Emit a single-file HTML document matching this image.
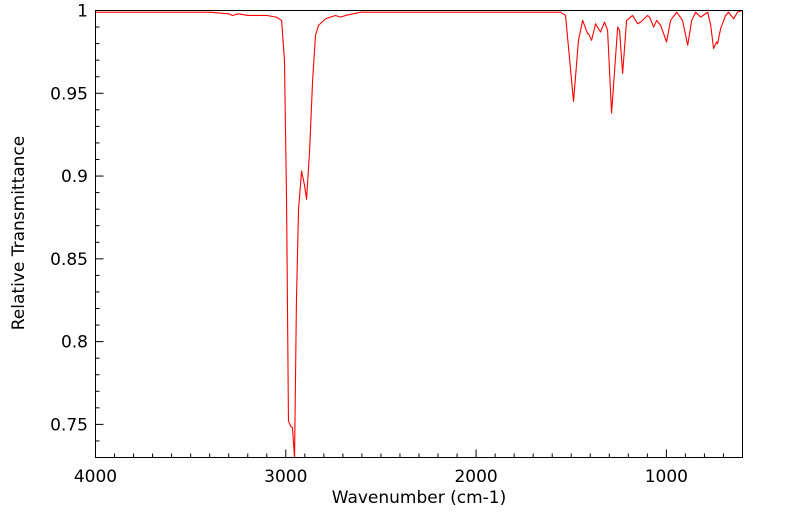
<!DOCTYPE html>
<html><head><meta charset="utf-8"><style>
body{margin:0;background:#fff;}
svg text{font-family:"DejaVu Sans","Liberation Sans",sans-serif;fill:#000;}
</style></head><body>
<svg id="chart" width="799" height="516" xmlns="http://www.w3.org/2000/svg">
<g id="axes"></g>
<path id="spectrum" fill="none" stroke="#ff0000" stroke-width="1.1" stroke-linejoin="round"/>
<rect x="95.5" y="10.5" width="647" height="447" fill="none" stroke="#000" stroke-width="1"/>
<text x="419" y="503" font-size="17" text-anchor="middle">Wavenumber (cm-1)</text>
<text transform="translate(24,233) rotate(-90)" font-size="17" text-anchor="middle">Relative Transmittance</text>
</svg>
<script>
const wavenumbers=[4000,3700,3400,3300,3280,3250,3200,3100,3050,3022,3007,2996,2986,2975,2965,2954,2944,2933,2917,2901,2891,2875,2859,2844,2828,2791,2739,2712,2686,2607,2500,2300,2000,1700,1556,1530,1488,1462,1440,1414,1409,1393,1372,1362,1346,1325,1309,1288,1256,1246,1230,1209,1178,1151,1135,1099,1088,1067,1051,1030,999,978,946,915,888,867,846,820,783,767,752,736,731,715,689,673,647,626,600];
const transmittance=[0.999,0.999,0.999,0.998,0.997,0.998,0.997,0.997,0.996,0.994,0.970,0.885,0.752,0.749,0.748,0.730,0.825,0.880,0.903,0.894,0.886,0.915,0.958,0.985,0.991,0.995,0.997,0.996,0.997,0.999,0.999,0.999,0.999,0.999,0.999,0.997,0.945,0.982,0.994,0.986,0.986,0.982,0.992,0.990,0.987,0.993,0.988,0.938,0.990,0.988,0.962,0.994,0.997,0.992,0.993,0.997,0.996,0.990,0.994,0.991,0.981,0.994,0.999,0.994,0.979,0.994,0.999,0.996,0.999,0.991,0.977,0.981,0.980,0.989,0.997,0.999,0.995,0.999,1.0];
const xTicks=[4000,3000,2000,1000];
const yTicks=[0.75,0.8,0.85,0.9,0.95,1];
const X0=95.5,X1=742.5,Y0=10.5,Y1=457.5;
const xMin=600,xMax=4000,yMin=0.73,yMax=1.0;
const xs=v=>X0+(xMax-v)/(xMax-xMin)*(X1-X0);
const ys=v=>Y1-(v-yMin)/(yMax-yMin)*(Y1-Y0);
const NS="http://www.w3.org/2000/svg";
const g=document.getElementById('axes');
function line(x1,y1,x2,y2){const l=document.createElementNS(NS,'line');l.setAttribute('x1',x1);l.setAttribute('y1',y1);l.setAttribute('x2',x2);l.setAttribute('y2',y2);l.setAttribute('stroke','#000');l.setAttribute('stroke-width','1');


g.appendChild(l);}
for(let v=4000;v>=600;v-=100){const x=xs(v);line(x,Y1,x,Y1-(v%1000===0?8:4));}
for(let i=73;i<=100;i++){const v=i/100;const y=ys(v);line(X0,y,X0+(i%5===0?8:4),y);}
xTicks.forEach(v=>{const t=document.createElementNS(NS,'text');t.setAttribute('x',xs(v));t.setAttribute('y',482);t.setAttribute('font-size','17');t.setAttribute('text-anchor','middle');t.textContent=v;


g.appendChild(t);});
yTicks.forEach(v=>{const t=document.createElementNS(NS,'text');t.setAttribute('x',88);t.setAttribute('y',ys(v)+6);t.setAttribute('font-size','17');t.setAttribute('text-anchor','end');t.textContent=String(v);


g.appendChild(t);});
let d='';wavenumbers.forEach((w,i)=>{d+=(i?'L':'M')+xs(w).toFixed(2)+','+ys(transmittance[i]).toFixed(2);});
document.getElementById('spectrum').setAttribute('d',d);
</script>
</body></html>
